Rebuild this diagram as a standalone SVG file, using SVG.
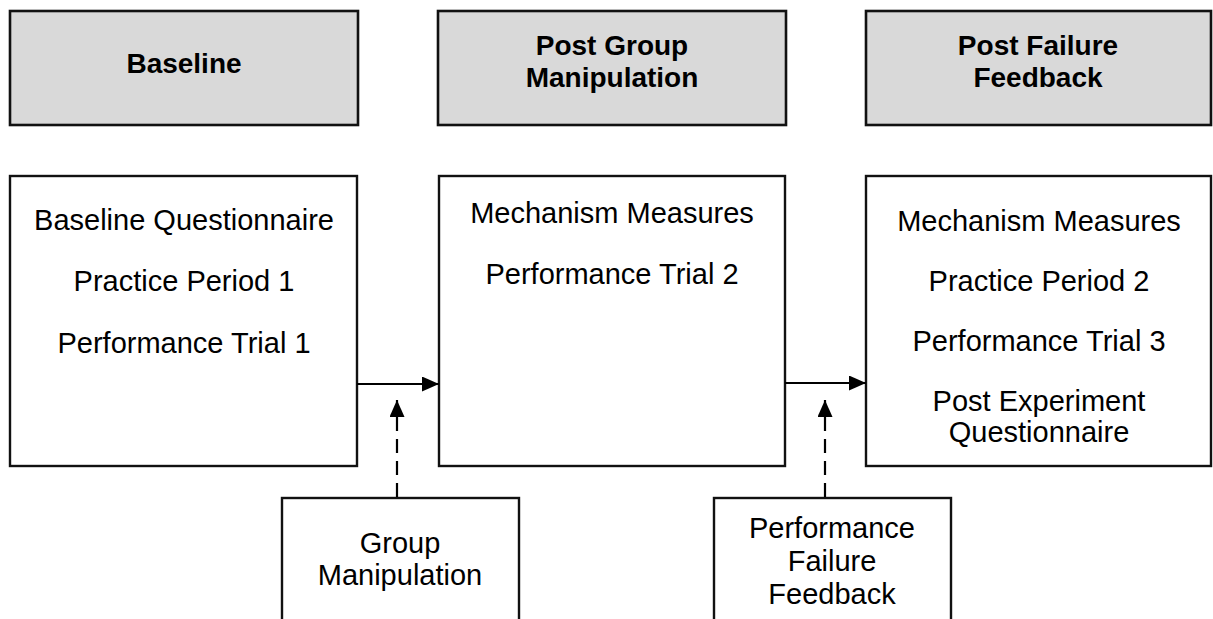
<svg xmlns="http://www.w3.org/2000/svg" width="1213" height="619" viewBox="0 0 1213 619">
<style>
.hdr{fill:#d9d9d9;stroke:#111;stroke-width:2.6}
.box{fill:#fff;stroke:#111;stroke-width:2.4}
.ht{font-family:"Liberation Sans",Arial,sans-serif;font-weight:bold;font-size:28px;fill:#000;text-anchor:middle}
.bt{font-family:"Liberation Sans",Arial,sans-serif;font-size:29px;fill:#000;text-anchor:middle}
.ln{stroke:#000;stroke-width:2.2;fill:none}
.dash{stroke:#000;stroke-width:2.2;fill:none;stroke-dasharray:14,8}
</style>
<defs>
<marker id="ah" markerWidth="17" markerHeight="15" refX="17" refY="7.5" orient="auto" markerUnits="userSpaceOnUse">
<path d="M0,0 L17,7.5 L0,15 Z" fill="#000"/>
</marker>
</defs>
<rect width="1213" height="619" fill="#fff"/>
<g id="hdr-baseline">
<rect class="hdr" x="10" y="11" width="348" height="114"/>
<text class="ht" x="184" y="73">Baseline</text>
</g>
<g id="hdr-postgroup">
<rect class="hdr" x="438" y="11" width="348" height="114"/>
<text class="ht" x="612" y="55">Post Group</text>
<text class="ht" x="612" y="87">Manipulation</text>
</g>
<g id="hdr-postfailure">
<rect class="hdr" x="866" y="11" width="345" height="114"/>
<text class="ht" x="1038" y="55">Post Failure</text>
<text class="ht" x="1038" y="87">Feedback</text>
</g>
<g id="box-baseline">
<rect class="box" x="10" y="176" width="347" height="290"/>
<text class="bt" x="184" y="230">Baseline Questionnaire</text>
<text class="bt" x="184" y="291">Practice Period 1</text>
<text class="bt" x="184" y="353">Performance Trial 1</text>
</g>
<g id="box-postgroup">
<rect class="box" x="439" y="176" width="346" height="290"/>
<text class="bt" x="612" y="223">Mechanism Measures</text>
<text class="bt" x="612" y="284">Performance Trial 2</text>
</g>
<g id="box-postfailure">
<rect class="box" x="866" y="176" width="345" height="290"/>
<text class="bt" x="1039" y="231">Mechanism Measures</text>
<text class="bt" x="1039" y="291">Practice Period 2</text>
<text class="bt" x="1039" y="351">Performance Trial 3</text>
<text class="bt" x="1039" y="411">Post Experiment</text>
<text class="bt" x="1039" y="442">Questionnaire</text>
</g>
<g id="box-groupmanip">
<rect class="box" x="282" y="498" width="237" height="140"/>
<text class="bt" x="400" y="553">Group</text>
<text class="bt" x="400" y="585">Manipulation</text>
</g>
<g id="box-failurefeedback">
<rect class="box" x="714" y="498" width="237" height="140"/>
<text class="bt" x="832" y="538">Performance</text>
<text class="bt" x="832" y="571">Failure</text>
<text class="bt" x="832" y="604">Feedback</text>
</g>
<g id="connectors">
<line class="ln" x1="357" y1="384" x2="439" y2="384" marker-end="url(#ah)"/>
<line class="ln" x1="785" y1="383" x2="866" y2="383" marker-end="url(#ah)"/>
<line class="dash" x1="397" y1="497" x2="397" y2="400" marker-end="url(#ah)"/>
<line class="dash" x1="825" y1="497" x2="825" y2="400" marker-end="url(#ah)"/>
</g>
</svg>
